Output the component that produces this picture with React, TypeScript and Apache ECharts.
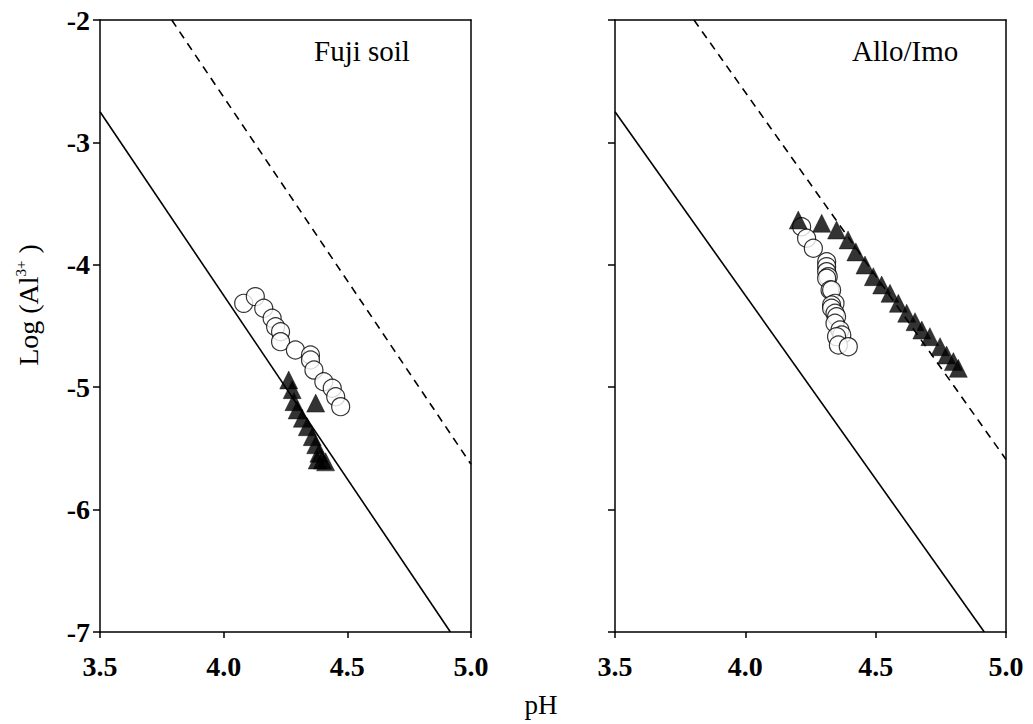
import React, { useEffect, useRef } from "react";
import * as echarts from "echarts";

// Fuji soil (left panel)
const fujiCircles: number[][] = [
  [4.081, -4.315], [4.128, -4.26], [4.162, -4.355], [4.196, -4.437], [4.21, -4.506],
  [4.23, -4.547], [4.23, -4.628], [4.29, -4.696], [4.351, -4.737], [4.351, -4.778],
  [4.365, -4.86], [4.405, -4.955], [4.439, -5.009], [4.453, -5.078], [4.473, -5.159],
];
const fujiTriangles: number[][] = [
  [4.263, -4.941], [4.277, -5.02], [4.284, -5.118], [4.297, -5.186], [4.318, -5.254],
  [4.338, -5.323], [4.372, -5.13], [4.358, -5.404], [4.372, -5.47], [4.385, -5.54],
  [4.399, -5.595], [4.412, -5.61], [4.378, -5.595],
];
// Allo/Imo (right panel)
const alloCircles: number[][] = [
  [4.216, -3.689], [4.235, -3.783], [4.261, -3.865], [4.312, -3.975], [4.312, -4.015],
  [4.312, -4.056], [4.318, -4.097], [4.312, -4.11], [4.325, -4.206], [4.331, -4.206],
  [4.344, -4.315], [4.331, -4.328], [4.331, -4.355], [4.344, -4.396], [4.35, -4.424],
  [4.344, -4.478], [4.363, -4.533], [4.37, -4.574], [4.35, -4.587], [4.357, -4.655],
  [4.395, -4.669],
];
const alloTriangles: number[][] = [
  [4.203, -3.634], [4.293, -3.661], [4.35, -3.716], [4.394, -3.797], [4.424, -3.895],
  [4.459, -4.002], [4.491, -4.097], [4.523, -4.165], [4.555, -4.233], [4.587, -4.315],
  [4.619, -4.396], [4.651, -4.465], [4.677, -4.533], [4.708, -4.587], [4.747, -4.669],
  [4.772, -4.737], [4.798, -4.791], [4.817, -4.846],
];
// reference lines (slope -3)
const solidLine: number[][] = [[3.5, -2.75], [4.9167, -7.0]];
const dashedLineLeft: number[][] = [[3.79, -2.0], [5.0, -5.63]];
const dashedLineRight: number[][] = [[3.803, -2.0], [5.0, -5.59]];

const xTicks = [3.5, 4.0, 4.5, 5.0];
const yTicks = [-7, -6, -5, -4, -3, -2];

const FONT = "Liberation Serif";

export default function App() {
  const ref = useRef<HTMLDivElement>(null);
  useEffect(() => {
    if (!ref.current) return;
    const chart = echarts.init(ref.current, undefined, { renderer: "svg" });
    const axisLineStyle = { color: "#000", width: 1.5 };
    const mkX = (gi: number) => ({
      type: "value",
      gridIndex: gi,
      min: xTicks[0],
      max: xTicks[xTicks.length - 1],
      interval: 0.5,
      axisLine: { show: true, onZero: false, lineStyle: axisLineStyle },
      axisTick: { show: true, inside: false, length: 6, lineStyle: axisLineStyle },
      axisLabel: {
        margin: 20,
        color: "#000",
        fontFamily: FONT,
        fontWeight: "bold",
        fontSize: 28,
        formatter: (v: number) => v.toFixed(1),
      },
      splitLine: { show: false },
    });
    const mkY = (gi: number, showLabels: boolean) => ({
      type: "value",
      gridIndex: gi,
      min: yTicks[0],
      max: yTicks[yTicks.length - 1],
      interval: 1,
      axisLine: { show: true, onZero: false, lineStyle: axisLineStyle },
      axisTick: { show: true, inside: false, length: 7, lineStyle: axisLineStyle },
      axisLabel: {
        show: showLabels,
        margin: 10,
        color: "#000",
        fontFamily: FONT,
        fontWeight: "bold",
        fontSize: 28,
      },
      splitLine: { show: false },
    });
    const borderX = (gi: number) => ({
      type: "value", gridIndex: gi, position: "top", min: 3.5, max: 5.0,
      axisLine: { show: true, onZero: false, lineStyle: axisLineStyle },
      axisTick: { show: false }, axisLabel: { show: false }, splitLine: { show: false },
    });
    const borderY = (gi: number) => ({
      type: "value", gridIndex: gi, position: "right", min: -7, max: -2,
      axisLine: { show: true, onZero: false, lineStyle: axisLineStyle },
      axisTick: { show: false }, axisLabel: { show: false }, splitLine: { show: false },
    });
    const lineSeries = (xi: number, data: number[][], dashed: boolean) => ({
      type: "line",
      xAxisIndex: xi,
      yAxisIndex: xi,
      data,
      symbol: "none",
      lineStyle: { color: "#000", width: 1.6, type: dashed ? [8, 6] : "solid" },
      z: 1,
    });
    const circleSeries = (xi: number, data: number[][]) => ({
      type: "scatter",
      xAxisIndex: xi,
      yAxisIndex: xi,
      data,
      symbol: "circle",
      symbolSize: 18,
      itemStyle: { color: "#fff", borderColor: "#000", borderWidth: 1.2 },
      z: 3,
    });
    const triSeries = (xi: number, data: number[][]) => ({
      type: "scatter",
      xAxisIndex: xi,
      yAxisIndex: xi,
      data,
      symbol: "triangle",
      symbolSize: 18,
      itemStyle: { color: "#000", borderColor: "#000", borderWidth: 0.5 },
      z: 4,
    });
    chart.setOption({
      animation: false,
      backgroundColor: "#fff",
      grid: [
        { left: 100, top: 20, width: 371, height: 612 },
        { left: 615, top: 20, width: 391, height: 612 },
      ],
      xAxis: [mkX(0), mkX(1), borderX(0), borderX(1)],
      yAxis: [mkY(0, true), mkY(1, false), borderY(0), borderY(1)],
      series: [
        lineSeries(0, solidLine, false),
        lineSeries(0, dashedLineLeft, true),
        lineSeries(1, solidLine, false),
        lineSeries(1, dashedLineRight, true),
        circleSeries(0, fujiCircles),
        triSeries(0, fujiTriangles),
        circleSeries(1, alloCircles),
        triSeries(1, alloTriangles),
      ],
      graphic: [
        {
          type: "text",
          left: 314,
          top: 36,
          style: { text: "Fuji soil", fontSize: 29, fontFamily: FONT, fill: "#000" },
        },
        {
          type: "text",
          left: 852,
          top: 36,
          style: { text: "Allo/Imo", fontSize: 29, fontFamily: FONT, fill: "#000" },
        },
        {
          type: "text",
          x: 541,
          y: 705,
          style: {
            text: "pH",
            fontSize: 27,
            fontFamily: FONT,
            fill: "#000",
            align: "center",
            verticalAlign: "middle",
          },
        },
        {
          type: "text",
          x: 28,
          y: 305,
          rotation: Math.PI / 2,
          style: {
            text: "Log (Al{sup|3+} )",
            fontSize: 28,
            fontFamily: FONT,
            fill: "#000",
            align: "center",
            verticalAlign: "middle",
            rich: {
              sup: { fontSize: 15, fontFamily: FONT, fill: "#000", padding: [0, 0, 14, 0] },
            },
          },
        },
      ],
    });
    return () => chart.dispose();
  }, []);
  return (
    <div
      ref={ref}
      style={{ position: "fixed", left: 0, top: 0, width: 1033, height: 724, background: "#fff" }}
    />
  );
}
